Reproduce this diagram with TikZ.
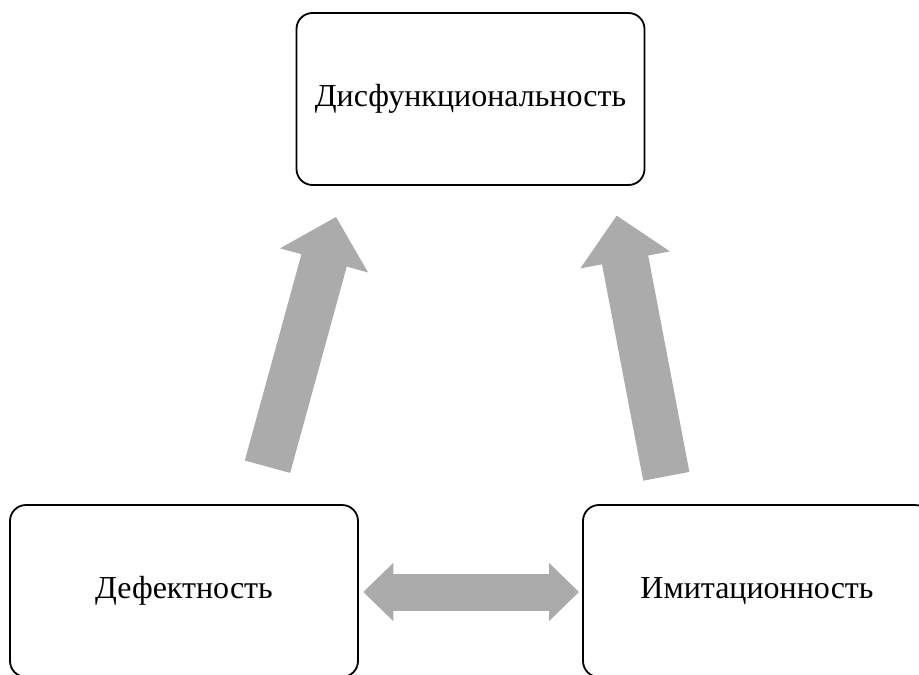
\documentclass[tikz,border=0pt]{standalone}
\usepackage{fontspec}
\setmainfont{Liberation Serif}
\usetikzlibrary{arrows.meta}
\definecolor{arrowgray}{RGB}{171,171,171}
\begin{document}
\begin{tikzpicture}[x=1pt,y=-1pt]
\tikzstyle{block}=[draw,line width=1.8pt,rounded corners=16pt,minimum width=348pt,minimum height=172pt,inner sep=0pt,font=\fontsize{32}{38}\selectfont]
\tikzstyle{bigarrow}=[draw=arrowgray,line width=47pt,-{Triangle[width=91pt,length=45pt,line width=1pt,color=arrowgray]}]
\tikzstyle{twoway}=[draw=arrowgray,line width=37pt,{Triangle[width=58pt,length=30pt,line width=1pt,color=arrowgray]}-{Triangle[width=58pt,length=30pt,line width=1pt,color=arrowgray]}]
\useasboundingbox (0,0) rectangle (919,675);
\clip (0,0) rectangle (919,675);
\node[block] (dys) at (470.5,99) {Дисфункциональность};
\node[block] (def) at (184,591) {Дефектность};
\node[block] (imi) at (757,591) {Имитационность};
\coordinate (defout) at (267.5,466.7);
\coordinate (dysinl) at (336,217);
\coordinate (imiout) at (666.3,476.3);
\coordinate (dysinr) at (616.7,215.7);
\coordinate (defside) at (363.3,592);
\coordinate (imiside) at (579,592);
\path[bigarrow] (defout) -- (dysinl);
\path[bigarrow] (imiout) -- (dysinr);
\path[twoway] (defside) -- (imiside);
\end{tikzpicture}
\end{document}
